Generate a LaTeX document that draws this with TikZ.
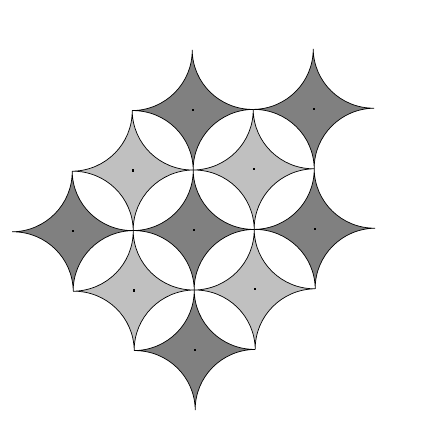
\documentclass[tikz,border=0pt]{standalone}
\begin{document}
\begin{tikzpicture}
\tikzset{
  darkstar/.style={fill={rgb,255:red,128;green,128;blue,128}, draw=black, line width=0.7pt},
  lightstar/.style={fill={rgb,255:red,192;green,192;blue,192}, draw=black, line width=0.7pt},
  cdot/.style={rectangle, fill=black, inner sep=0pt, minimum size=2.2pt}
}
\useasboundingbox (0,0) rectangle (425pt,434pt);
\newcommand\astar[3]{%
  \path[#3] ({#1+1},#2) arc[start angle=270,end angle=180,radius=1]
     arc[start angle=0,end angle=-90,radius=1]
     arc[start angle=90,end angle=0,radius=1]
     arc[start angle=180,end angle=90,radius=1] -- cycle;}
\begin{scope}[shift={(193.7pt,204pt)}, x={(60.5pt,0.6pt)}, y={(0.5pt,-60pt)}]
  \astar{0}{-2}{darkstar}
  \astar{2}{-2}{darkstar}
  \astar{-2}{0}{darkstar}
  \astar{0}{0}{darkstar}
  \astar{2}{0}{darkstar}
  \astar{0}{2}{darkstar}
  \astar{-1}{-1}{lightstar}
  \astar{1}{-1}{lightstar}
  \astar{-1}{1}{lightstar}
  \astar{1}{1}{lightstar}
  \node[cdot] (c1) at (0,-2) {};
  \node[cdot] (c2) at (2,-2) {};
  \node[cdot] (c3) at (-2,0) {};
  \node[cdot] (c4) at (0,0) {};
  \node[cdot] (c5) at (2,0) {};
  \node[cdot] (c6) at (0,2) {};
  \node[cdot] (c7) at (-1,-1) {};
  \node[cdot] (c8) at (1,-1) {};
  \node[cdot] (c9) at (-1,1) {};
  \node[cdot] (c10) at (1,1) {};
\end{scope}
\end{tikzpicture}
\end{document}
